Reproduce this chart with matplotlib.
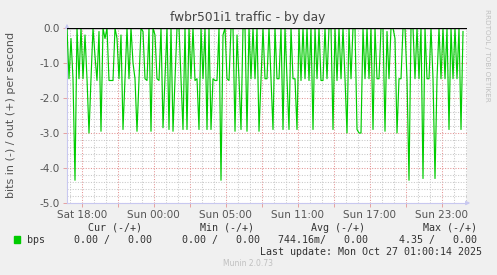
import numpy as np
import matplotlib
matplotlib.use("Agg")
import matplotlib.pyplot as plt
from matplotlib.patches import Rectangle

bps_in = [
    0, -1.45, -0.3, -1.45, -4.35, 0, -1.45, 0, -1.45, -0.2, -1.45, -3.0, -1.45, 0, -0.8, -1.5, -0.1,
    -2.95, 0, -0.3, 0, -1.5, -1.5, -1.5, 0, -0.3, -1.45, -0.2, -2.9, -1.45, 0, -1.45, 0, -1.0, -1.45,
    -2.95, -1.45, 0, -0.1, -1.45, -1.5, 0, -2.95, 0, -0.2, -1.45, -1.5, 0, -2.85, -1.45, 0,
    -2.9, 0, -2.95, -1.45, 0, 0, -1.45, -2.9, 0, -2.9, 0, -1.45, 0, -1.5, -1.45, -2.9, 0, -1.45, 0,
    -2.9, 0, -2.9, -1.45, -1.5, -1.5, 0, -4.35, -0.2, 0, -1.45, -1.5, 0, 0, -2.95, -0.2, -1.45, -2.9,
    0, 0, -2.95, 0, -1.45, 0, -1.45, 0, -2.95, -1.45, 0, -1.45,
    -1.45, 0, -1.45, -2.9, 0, -1.45, -1.45, 0, -2.9, 0, -1.45, -2.9, 0, -1.45, -1.45, -2.9, 0, -1.5,
    0, -1.45, 0, -1.5, 0, -2.9, 0, -1.45, 0, -1.5, -1.5, 0, -1.45, 0, 0, -2.9, 0, -1.5, 0, -1.45, 0,
    -1.45, -3.0, 0, -1.45, 0, 0, -2.9, -3.0, -3.0, 0, -1.45,
    0, -1.45, 0, -2.9, 0, -1.45, -1.45, 0, 0, -2.95, -0.1, -1.45, 0, 0, -0.3, -3.0, -1.45, -1.45, 0,
    0, -1.45, -4.35, 0, 0, -1.45, 0, -1.45, 0, -4.3, 0, -1.45, -1.45, 0, -1.45, -4.3, -1.45, 0, -1.45,
    0, -1.45, 0, -2.9, 0, -1.45, 0, -1.45, 0, -2.9, -0.1,
]
t_start = -1.225      # hours relative to Sat 18:00
t_step = 1.0 / 6      # 10 minutes
t_end = 32.108

tick_pos = [0, 6, 12, 18, 24, 30]
tick_labels = ["Sat 18:00", "Sun 00:00", "Sun 05:00", "Sun 11:00", "Sun 17:00", "Sun 23:00"]

legend_cols = ["Cur (-/+)", "Min (-/+)", "Avg (-/+)", "Max (-/+)"]
legend_vals = ["0.00 /   0.00", "0.00 /   0.00", "744.16m/   0.00", "4.35 /   0.00"]

W, H = 497, 275
fig = plt.figure(figsize=(W / 100, H / 100), dpi=100, facecolor="#f0f0f0")
ax = fig.add_axes([67 / W, 1 - 203 / H, 400 / W, 175 / H])
ax.set_facecolor("white")

t = t_start + t_step * np.arange(len(bps_in))
ax.plot(t, bps_in, color="#00cc00", lw=0.85, zorder=3)
ax.axhline(0, color="black", lw=1.0, zorder=4)

ax.set_xlim(t_start, t_end)
ax.set_ylim(-5, 0)

# grid like rrdtool: grey minor, pinkish major
ax.set_xticks(np.arange(-1, 33, 1), minor=True)
ax.set_xticks(np.arange(0, 33, 3))
ax.set_xticklabels([tick_labels[tick_pos.index(v)] if v in tick_pos else "" for v in range(0, 33, 3)])
ax.set_yticks(np.arange(-5, 0.01, 0.2), minor=True)
ax.set_yticks(np.arange(-5, 0.01, 1))
ax.set_yticklabels(["%.1f" % v for v in np.arange(-5, 0.01, 1)])
ax.grid(which="minor", color="#c8c8c8", lw=0.75, ls=(0, (1, 1.5)), zorder=1)
ax.grid(which="major", color="#e49494", lw=0.75, ls=(0, (1, 1.5)), zorder=2)
ax.tick_params(which="major", length=3, width=0.6, color="#e49494", labelsize=7.5,
               labelcolor="#555555", pad=2)
ax.tick_params(which="minor", length=0)

for s in ["top", "right"]:
    ax.spines[s].set_visible(False)
for s in ["left", "bottom"]:
    ax.spines[s].set_color("#c8c8f0")
    ax.spines[s].set_linewidth(0.8)

# axis arrows
ax.annotate("", xy=(0, 1.04), xytext=(0, 0.98), xycoords="axes fraction",
            arrowprops=dict(arrowstyle="-|>", color="#c8c8f0", lw=0.8, mutation_scale=6))
ax.annotate("", xy=(1.015, 0), xytext=(0.99, 0), xycoords="axes fraction",
            arrowprops=dict(arrowstyle="-|>", color="#c8c8f0", lw=0.8, mutation_scale=6))

fig.text(248 / W, 1 - 18 / H, "fwbr501i1 traffic - by day", ha="center", va="center",
         fontsize=8.8, color="#444444")
fig.text(11 / W, 1 - 115 / H, "bits in (-) / out (+) per second", rotation=90,
         ha="center", va="center", fontsize=8, color="#555555")
fig.text(487 / W, 1 - 55 / H, "RRDTOOL / TOBI OETIKER", rotation=270, ha="center",
         va="center", fontsize=5.2, color="#c0c0c0")

mono = "DejaVu Sans Mono"
fig.patches.append(Rectangle((14 / W, 1 - 243 / H), 6 / W, 7 / H, transform=fig.transFigure,
                             color="#00cc00"))
fig.text(27 / W, 1 - 240 / H, "bps", ha="left", va="center", family=mono, fontsize=7.2,
         color="#333333")
col_right = [142, 254, 365, 477]
val_right = [152, 260, 368, 477]
for name, xr in zip(legend_cols, col_right):
    fig.text(xr / W, 1 - 228 / H, name, ha="right", va="center", family=mono, fontsize=7.2,
             color="#333333")
for val, xr in zip(legend_vals, val_right):
    fig.text(xr / W, 1 - 240 / H, val, ha="right", va="center", family=mono, fontsize=7.2,
             color="#333333")
fig.text(482 / W, 1 - 252 / H, "Last update: Mon Oct 27 01:00:14 2025", ha="right",
         va="center", family=mono, fontsize=7.2, color="#333333")
fig.text(248 / W, 1 - 264 / H, "Munin 2.0.73", ha="center", va="center", fontsize=5.5,
         color="#c0c0c0")

fig.savefig("out.png", dpi=100, facecolor=fig.get_facecolor())
